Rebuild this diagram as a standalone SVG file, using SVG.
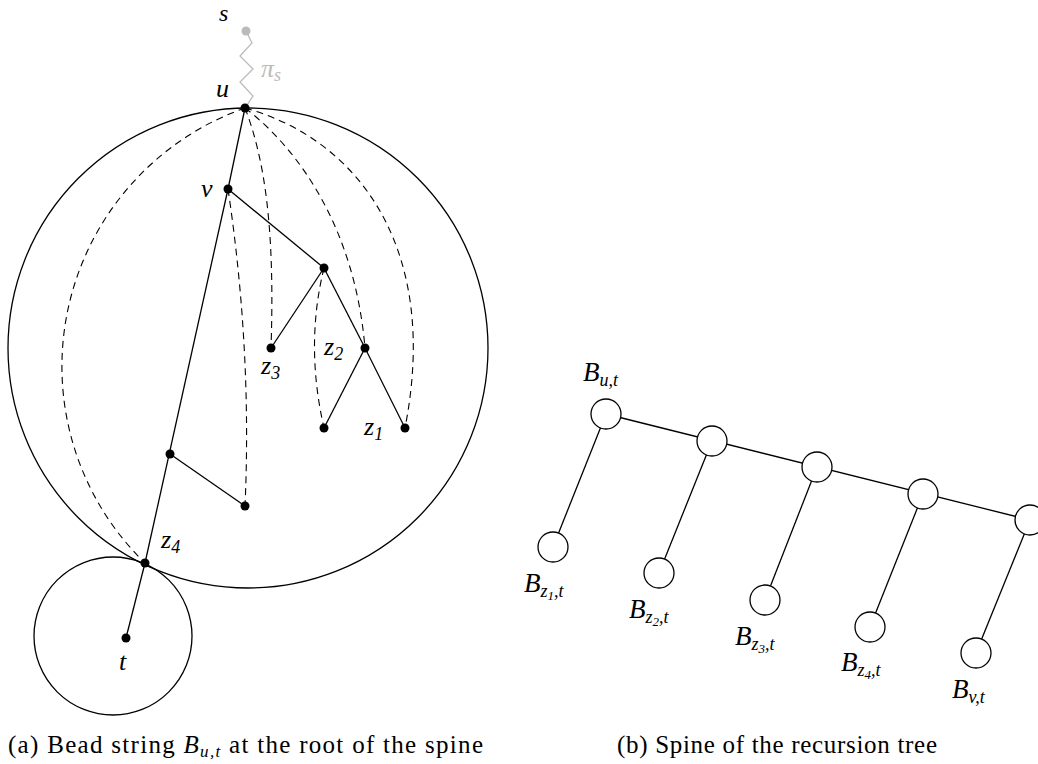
<svg xmlns="http://www.w3.org/2000/svg" width="1038" height="764" viewBox="0 0 1038 764">
<style>
.ln{stroke:#000;stroke-width:1.3;fill:none}
.ds{stroke:#000;stroke-width:1.1;fill:none;stroke-dasharray:7,5}
.dot{fill:#000}
.bead{fill:#fff;stroke:#000;stroke-width:1.3}
.m{font-family:"Liberation Serif","DejaVu Serif",serif;font-style:italic;font-size:26px;fill:#000}
.b{font-family:"Liberation Serif","DejaVu Serif",serif;font-style:italic;font-size:27px;fill:#000}
.sub{font-size:18px}
.cap{font-family:"Liberation Serif","DejaVu Serif",serif;font-size:25px;fill:#000}
</style>
<rect width="1038" height="764" fill="#fff"/>
<g id="bigcircle"><circle cx="248" cy="348" r="240" class="ln"/></g>
<g id="smallcircle"><circle cx="113" cy="636" r="79" class="ln"/></g>
<g id="connectors">
<polyline points="246,31 252,43 240,56 253,69 240,82 253,96 245,108" fill="none" stroke="#bbb" stroke-width="1.3"/>
<path class="ds" d="M245,108 A274,274 0 0 0 145,563"/>
<path class="ds" d="M228,189 Q252,350 245,506"/>
<path class="ds" d="M245,108 C265,160 275,230 271,348"/>
<path class="ds" d="M324,268 Q305,345 324,428"/>
<path class="ds" d="M245,108 C300,150 355,230 365,348"/>
<path class="ds" d="M245,108 C360,140 440,250 405,428"/>
<line class="ln" x1="245" y1="108" x2="228" y2="189"/>
<line class="ln" x1="228" y1="189" x2="324" y2="268"/>
<line class="ln" x1="324" y1="268" x2="271" y2="348"/>
<line class="ln" x1="324" y1="268" x2="365" y2="348"/>
<line class="ln" x1="365" y1="348" x2="324" y2="428"/>
<line class="ln" x1="365" y1="348" x2="405" y2="428"/>
<line class="ln" x1="228" y1="189" x2="145" y2="563"/>
<line class="ln" x1="170" y1="454" x2="245" y2="506"/>
<line class="ln" x1="145" y1="563" x2="126" y2="638"/>
<line class="ln" x1="606" y1="414" x2="1030" y2="520"/>
<line class="ln" x1="606" y1="414" x2="553" y2="547"/>
<line class="ln" x1="712" y1="441" x2="659" y2="573"/>
<line class="ln" x1="817" y1="467" x2="765" y2="600"/>
<line class="ln" x1="923" y1="494" x2="870" y2="627"/>
<line class="ln" x1="1030" y1="520" x2="976" y2="653"/>
</g>
<g id="node-s"><circle cx="246" cy="31" r="4.5" fill="#bbb"/><text class="m" x="219" y="21" font-size="24" style="font-size:24px">s</text></g>
<text class="m" x="261" y="77" style="fill:#bbb">π<tspan class="sub" dy="4">s</tspan></text>
<g id="node-u"><circle cx="245" cy="108" r="4.5" class="dot"/><text class="m" x="216" y="97">u</text></g>
<g id="node-v"><circle cx="228" cy="189" r="4.5" class="dot"/><text class="m" x="201" y="197">v</text></g>
<g id="node-a"><circle cx="324" cy="268" r="4.5" class="dot"/></g>
<g id="node-z3"><circle cx="271" cy="348" r="4.5" class="dot"/><text class="m" x="261" y="374">z<tspan class="sub" dy="5">3</tspan></text></g>
<g id="node-z2"><circle cx="365" cy="348" r="4.5" class="dot"/><text class="m" x="324" y="355">z<tspan class="sub" dy="5">2</tspan></text></g>
<g id="node-z2c"><circle cx="324" cy="428" r="4.5" class="dot"/></g>
<g id="node-z1"><circle cx="405" cy="428" r="4.5" class="dot"/><text class="m" x="364" y="435">z<tspan class="sub" dy="5">1</tspan></text></g>
<g id="node-b"><circle cx="170" cy="454" r="4.5" class="dot"/></g>
<g id="node-c"><circle cx="245" cy="506" r="4.5" class="dot"/></g>
<g id="node-z4"><circle cx="145" cy="563" r="4.5" class="dot"/><text class="m" x="161" y="548">z<tspan class="sub" dy="5">4</tspan></text></g>
<g id="node-t"><circle cx="126" cy="638" r="4.5" class="dot"/><text class="m" x="119" y="670">t</text></g>
<g id="bead-u"><circle cx="606" cy="414" r="15" class="bead"/><text class="b" x="583" y="381">B<tspan class="sub" dy="5">u,t</tspan></text></g>
<g id="bead-s2"><circle cx="712" cy="441" r="15" class="bead"/></g>
<g id="bead-s3"><circle cx="817" cy="467" r="15" class="bead"/></g>
<g id="bead-s4"><circle cx="923" cy="494" r="15" class="bead"/></g>
<g id="bead-s5"><circle cx="1030" cy="520" r="15" class="bead"/></g>
<g id="bead-z1"><circle cx="553" cy="547" r="15" class="bead"/><text class="b" x="524" y="592">B<tspan class="sub" dy="5">z<tspan font-size="13" dy="3">1</tspan><tspan dy="-3">,t</tspan></tspan></text></g>
<g id="bead-z2"><circle cx="659" cy="573" r="15" class="bead"/><text class="b" x="629" y="618">B<tspan class="sub" dy="5">z<tspan font-size="13" dy="3">2</tspan><tspan dy="-3">,t</tspan></tspan></text></g>
<g id="bead-z3"><circle cx="765" cy="600" r="15" class="bead"/><text class="b" x="735" y="645">B<tspan class="sub" dy="5">z<tspan font-size="13" dy="3">3</tspan><tspan dy="-3">,t</tspan></tspan></text></g>
<g id="bead-z4"><circle cx="870" cy="627" r="15" class="bead"/><text class="b" x="841" y="671">B<tspan class="sub" dy="5">z<tspan font-size="13" dy="3">4</tspan><tspan dy="-3">,t</tspan></tspan></text></g>
<g id="bead-v"><circle cx="976" cy="653" r="15" class="bead"/><text class="b" x="952" y="698">B<tspan class="sub" dy="5">v,t</tspan></text></g>
<text class="cap" x="8" y="753" textLength="475" lengthAdjust="spacing">(a) Bead string <tspan font-style="italic">B</tspan><tspan font-style="italic" font-size="17" dy="4">u,t</tspan><tspan dy="-4"> at the root of the spine</tspan></text>
<text class="cap" x="617" y="753" textLength="320" lengthAdjust="spacing">(b) Spine of the recursion tree</text>
</svg>
